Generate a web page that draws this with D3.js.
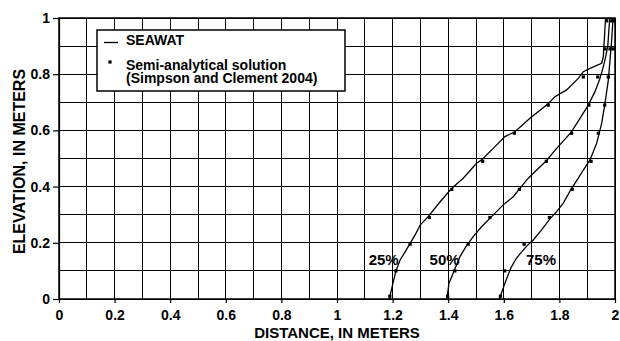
<!DOCTYPE html>
<meta charset="utf-8">
<body style="margin:0;background:#fff">
<script src="https://d3js.org/d3.v7.min.js"></script>
<style>
  body { font-family: "Liberation Sans", Arial, sans-serif; }
  .axis text { font-size: 14px; font-weight: bold; fill: #000; }
  .axis path, .axis line { stroke: #000; stroke-width: 1.2px; }
  .grid line { stroke: #000; stroke-width: 1px; shape-rendering: crispEdges; }
</style>
<div id="chart"></div>
<script>
// tick values
var xTicks = [0, 0.2, 0.4, 0.6, 0.8, 1, 1.2, 1.4, 1.6, 1.8, 2];
var yTicks = [0, 0.2, 0.4, 0.6, 0.8, 1];
var gridX = d3.range(0, 2.01, 0.1);
var gridY = d3.range(0, 1.01, 0.1);

// semi-analytical points (Simpson and Clement 2004)
var dotElev = [0.01, 0.1, 0.195, 0.29, 0.39, 0.49, 0.59, 0.69, 0.79, 0.89, 0.99];
var dots25 = [1.19, 1.212, 1.263, 1.332, 1.413, 1.524, 1.638, 1.760, 1.886, 1.964, 1.970];
var dots50 = [1.398, 1.424, 1.472, 1.550, 1.656, 1.753, 1.844, 1.906, 1.938, 1.982, 1.988];
var dots75 = [1.588, 1.603, 1.673, 1.764, 1.846, 1.914, 1.940, 1.963, 1.976, 1.994, 1.998];

// SEAWAT lines [distance, elevation]
var line25 = [[1.188,0],[1.200,0.05],[1.212,0.10],[1.227,0.139],[1.245,0.168],[1.263,0.198],
  [1.281,0.228],[1.299,0.263],[1.328,0.293],[1.371,0.346],[1.413,0.394],[1.454,0.43],
  [1.502,0.483],[1.520,0.495],[1.562,0.536],[1.604,0.578],[1.640,0.595],[1.694,0.643],
  [1.754,0.69],[1.784,0.72],[1.826,0.744],[1.868,0.785],[1.886,0.809],[1.910,0.821],
  [1.952,0.839],[1.958,0.862],[1.962,0.93],[1.966,1.0]];
var line50 = [[1.395,0],[1.403,0.056],[1.421,0.10],[1.442,0.15],[1.466,0.19],[1.490,0.222],
  [1.520,0.257],[1.556,0.293],[1.598,0.335],[1.634,0.364],[1.658,0.394],[1.688,0.43],
  [1.712,0.453],[1.754,0.493],[1.790,0.536],[1.842,0.593],[1.874,0.643],[1.904,0.69],
  [1.928,0.738],[1.946,0.785],[1.958,0.827],[1.966,0.86],[1.974,0.9],[1.981,1.0]];
var line75 = [[1.584,0],[1.604,0.056],[1.625,0.11],[1.645,0.145],[1.662,0.165],[1.684,0.19],
  [1.706,0.21],[1.736,0.246],[1.766,0.285],[1.790,0.311],[1.814,0.341],[1.844,0.394],
  [1.868,0.43],[1.886,0.459],[1.910,0.495],[1.934,0.554],[1.952,0.625],[1.964,0.696],
  [1.976,0.779],[1.982,0.85],[1.988,0.92],[1.993,1.0]];

var curveLabels = [
  {text: "25%", d: 1.114, e: 0.12},
  {text: "50%", d: 1.333, e: 0.12},
  {text: "75%", d: 1.680, e: 0.12}
];

var margin = {top: 18, right: 5, bottom: 42, left: 59},
    width = 620 - margin.left - margin.right,
    height = 341 - margin.top - margin.bottom;

var x = d3.scaleLinear().domain([0, 2]).range([0, width]);
var y = d3.scaleLinear().domain([0, 1]).range([height, 0]);

var svg = d3.select("#chart").append("svg")
    .attr("width", 620)
    .attr("height", 341)
  .append("g")
    .attr("transform", "translate(" + margin.left + "," + margin.top + ")");

// grid
var grid = svg.append("g").attr("class", "grid");
grid.selectAll(".gx").data(gridX).enter().append("line")
    .attr("x1", function(d) { return x(d); })
    .attr("x2", function(d) { return x(d); })
    .attr("y1", 0).attr("y2", height);
grid.selectAll(".gy").data(gridY).enter().append("line")
    .attr("y1", function(d) { return y(d); })
    .attr("y2", function(d) { return y(d); })
    .attr("x1", 0).attr("x2", width);

// frame
svg.append("rect")
    .attr("width", width).attr("height", height)
    .attr("fill", "none").attr("stroke", "#000").attr("stroke-width", 1.5);

var fmt = function(d) { return String(+d.toFixed(1)); };

svg.append("g")
    .attr("class", "axis")
    .attr("transform", "translate(0," + height + ")")
    .call(d3.axisBottom(x).tickValues(xTicks).tickFormat(fmt).tickSize(4).tickPadding(7).tickSizeOuter(0));

svg.append("g")
    .attr("class", "axis")
    .call(d3.axisLeft(y).tickValues(yTicks).tickFormat(fmt).tickSize(6).tickPadding(3).tickSizeOuter(0));

// axis titles
svg.append("text")
    .attr("x", width / 2)
    .attr("y", height + 39)
    .attr("text-anchor", "middle")
    .style("font-size", "15px").style("font-weight", "bold")
    .text("DISTANCE, IN METERS");

svg.append("text")
    .attr("transform", "translate(" + (25 - margin.left) + "," + (height / 2 + 3) + ") rotate(-90)")
    .attr("text-anchor", "middle")
    .style("font-size", "16px").style("font-weight", "bold")
    .text("ELEVATION, IN METERS");

// SEAWAT lines
var line = d3.line()
    .x(function(d) { return x(d[0]); })
    .y(function(d) { return y(d[1]); });

[line25, line50, line75].forEach(function(l) {
  svg.append("path")
      .datum(l)
      .attr("d", line)
      .attr("fill", "none")
      .attr("stroke", "#000")
      .attr("stroke-width", 1.3);
});

// semi-analytical dots
[dots25, dots50, dots75].forEach(function(ds) {
  svg.selectAll(null)
      .data(ds)
      .enter().append("rect")
      .attr("x", function(d) { return x(d) - 1.6; })
      .attr("y", function(d, i) { return y(dotElev[i]) - 1.6; })
      .attr("width", 3.2).attr("height", 3.2)
      .attr("fill", "#000");
});

// curve labels
svg.selectAll(".clabel")
    .data(curveLabels)
    .enter().append("text")
    .attr("x", function(d) { return x(d.d); })
    .attr("y", function(d) { return y(d.e); })
    .style("font-size", "15px").style("font-weight", "bold")
    .text(function(d) { return d.text; });

// legend
var legend = svg.append("g")
    .attr("transform", "translate(" + (97 - margin.left) + "," + (30 - margin.top) + ")");

legend.append("rect")
    .attr("width", 248).attr("height", 61)
    .attr("fill", "#fff").attr("stroke", "#000").attr("stroke-width", 1.5);

legend.append("line")
    .attr("x1", 7).attr("x2", 21).attr("y1", 12.5).attr("y2", 12.5)
    .attr("stroke", "#000").attr("stroke-width", 1.3);

legend.append("rect")
    .attr("x", 11.4).attr("y", 30.4).attr("width", 3.2).attr("height", 3.2)
    .attr("fill", "#000");

var lt = legend.append("text")
    .style("font-size", "14px").style("font-weight", "bold");
lt.append("tspan").attr("x", 29).attr("y", 15).text("SEAWAT");
lt.append("tspan").attr("x", 29).attr("y", 39.5).text("Semi-analytical solution");
lt.append("tspan").attr("x", 29).attr("y", 52.5).text("(Simpson and Clement 2004)");
</script>
